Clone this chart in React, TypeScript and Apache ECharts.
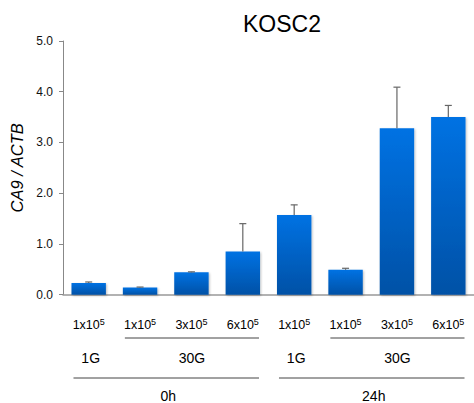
import React, { useEffect, useRef } from "react";
import * as echarts from "echarts";

const categories = ["1x10^5", "1x10^5", "3x10^5", "6x10^5", "1x10^5", "1x10^5", "3x10^5", "6x10^5"];
const means = [0.23, 0.14, 0.44, 0.85, 1.57, 0.49, 3.28, 3.5];
const errors = [0.02, 0.01, 0.01, 0.55, 0.2, 0.03, 0.81, 0.23];
const yTicks = [0, 1, 2, 3, 4, 5];
const level1Groups = [
  { label: "1G", from: 0, to: 0, line: false },
  { label: "30G", from: 1, to: 3, line: true },
  { label: "1G", from: 4, to: 4, line: false },
  { label: "30G", from: 5, to: 7, line: true },
];
const level2Groups = [
  { label: "0h", from: 0, to: 3 },
  { label: "24h", from: 4, to: 7 },
];

export default function App() {
  const ref = useRef<HTMLDivElement>(null);
  useEffect(() => {
    document.body.style.margin = "0";
    const chart = echarts.init(ref.current!, undefined, { renderer: "svg" });
    const font = "'Liberation Sans', Arial, sans-serif";
    chart.setOption({
      animation: false,
      title: {
        text: "KOSC2",
        left: 277,
        top: 7,
        textAlign: "center",
        textStyle: { fontFamily: font, fontSize: 23, fontWeight: "normal", color: "#000" },
      },
      grid: { left: 62, top: 41, width: 419.2, height: 253.67 },
      xAxis: {
        type: "category",
        data: categories,
        axisLine: { lineStyle: { color: "#999", width: 1.5 } },
        axisTick: { show: false },
        axisLabel: {
          margin: 23,
          interval: 0,
          formatter: (v: string) => {
            const [a, b] = v.split("^");
            return `{a|${a}}{s|${b}}`;
          },
          rich: {
            a: { fontFamily: font, fontSize: 12.5, color: "#000" },
            s: { fontFamily: font, fontSize: 9, color: "#000", verticalAlign: "top", padding: [0, 0, 5, 0] },
          },
        },
      },
      yAxis: {
        type: "value",
        min: yTicks[0],
        max: yTicks[yTicks.length - 1],
        interval: 1,
        name: "CA9 / ACTB",
        nameLocation: "middle",
        nameGap: 38,
        nameTextStyle: { fontFamily: font, fontSize: 16.5, fontStyle: "italic", color: "#000" },
        axisLine: { show: true, lineStyle: { color: "#888" } },
        axisTick: { show: true, length: 4, lineStyle: { color: "#888" } },
        splitLine: { show: false },
        axisLabel: {
          margin: 10,
          fontFamily: font,
          fontSize: 12,
          color: "#111",
          formatter: (v: number) => v.toFixed(1),
        },
      },
      series: [
        {
          type: "bar",
          data: means,
          barCategoryGap: "33%",
          itemStyle: {
            color: new echarts.graphic.LinearGradient(0, 0, 0, 1, [
              { offset: 0, color: "#0072E3" },
              { offset: 1, color: "#0051A6" },
            ]),
            shadowColor: "rgba(0,0,0,0.25)",
            shadowBlur: 2,
            shadowOffsetX: 1,
            shadowOffsetY: 1,
          },
        },
        {
          type: "custom",
          data: means.map((m, i) => [i, m, errors[i]]),
          renderItem: (params: any, api: any) => {
            const i = api.value(0);
            const m = api.value(1);
            const e = api.value(2);
            const p0 = api.coord([i, m]);
            const p1 = api.coord([i, m + e]);
            const style = { stroke: "#666", lineWidth: 1.2 };
            return {
              type: "group",
              children: [
                { type: "line", shape: { x1: p0[0], y1: p0[1], x2: p1[0], y2: p1[1] }, style },
                { type: "line", shape: { x1: p1[0] - 3.5, y1: p1[1], x2: p1[0] + 3.5, y2: p1[1] }, style },
              ],
            };
          },
          z: 5,
        },
      ],
    });

    const cx = (i: number) => chart.convertToPixel({ xAxisIndex: 0 }, i) as number;
    const half = 52.4 / 2;
    const graphics: any[] = [];
    const textStyle = (t: string) => ({ text: t, fontFamily: font, fontSize: 14, fill: "#000", align: "center", verticalAlign: "middle" });
    level1Groups.forEach((g) => {
      const x = (cx(g.from) + cx(g.to)) / 2;
      if (g.line) {
        const x1 = cx(g.from) - half + 11;
        const x2 = cx(g.to) + half - 10;
        graphics.push({ type: "line", shape: { x1, y1: 338, x2, y2: 338 }, style: { stroke: "#444", lineWidth: 1 } });
        graphics.push({ type: "text", x: (x1 + x2) / 2, y: 358, style: textStyle(g.label) });
      } else {
        graphics.push({ type: "text", x: x + 2, y: 358, style: textStyle(g.label) });
      }
    });
    level2Groups.forEach((g) => {
      const x1 = cx(g.from) - half + 11;
      const x2 = cx(g.to) + half - 10;
      graphics.push({ type: "line", shape: { x1, y1: 378, x2, y2: 378 }, style: { stroke: "#444", lineWidth: 1 } });
      graphics.push({ type: "text", x: (x1 + x2) / 2 + 2, y: 396, style: textStyle(g.label) });
    });
    chart.setOption({ graphic: graphics });

    return () => chart.dispose();
  }, []);
  return <div ref={ref} style={{ width: 474, height: 403 }} />;
}
